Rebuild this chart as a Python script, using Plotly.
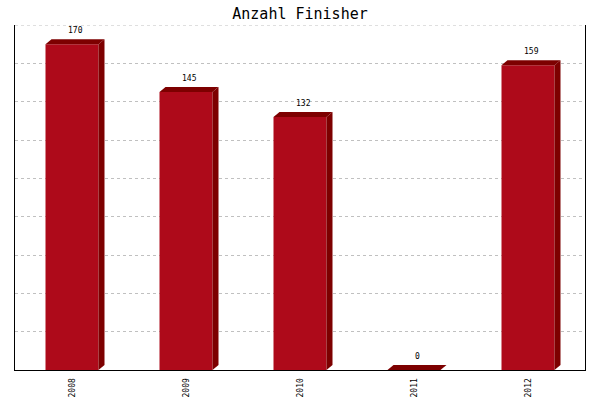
import plotly.graph_objects as go

years = ["2008", "2009", "2010", "2011", "2012"]
finishers = [170, 145, 132, 0, 159]

front_color = "#AE0A1A"
dark_color = "#7D0000"

W, H = 600, 400
ml, mr, mt, mb = 15, 15, 25, 30
ymax = 180
plot_w = W - ml - mr
plot_h = H - mt - mb
px_per_cat = plot_w / len(years)
px_per_unit = plot_h / ymax

bar_w = 53 / px_per_cat
dx = 6 / px_per_cat
dy = 5 / px_per_unit

fig = go.Figure()
fig.add_trace(go.Bar(
    x=list(range(len(years))), y=finishers, width=bar_w,
    marker=dict(color=front_color, line=dict(width=0)),
    showlegend=False, hoverinfo="skip"))

for i, v in enumerate(finishers):
    x0, x1 = i - bar_w / 2, i + bar_w / 2
    # top face
    fig.add_trace(go.Scatter(
        x=[x0, x1, x1 + dx, x0 + dx, x0],
        y=[v, v, v + dy, v + dy, v],
        fill="toself", fillcolor=dark_color, mode="lines",
        line=dict(width=0, color=dark_color), showlegend=False, hoverinfo="skip"))
    # side face
    if v > 0:
        fig.add_trace(go.Scatter(
            x=[x1, x1 + dx, x1 + dx, x1, x1],
            y=[v, v + dy, dy, 0, v],
            fill="toself", fillcolor=dark_color, mode="lines",
            line=dict(width=0, color=dark_color), showlegend=False, hoverinfo="skip"))
    fig.add_annotation(x=i + dx / 2, y=v + dy, text=str(v), showarrow=False,
                       yanchor="bottom", yshift=2,
                       font=dict(family="DejaVu Sans Mono", size=8, color="black"))

# dashed gridline along the top edge of the plot area
fig.add_shape(type="line", xref="paper", yref="y", x0=0, x1=1, y0=ymax, y1=ymax,
              line=dict(color="#C0C0C0", width=1, dash="3px,3px"), layer="below")

fig.update_layout(
    width=W, height=H,
    margin=dict(l=ml, r=mr, t=mt, b=mb, autoexpand=False),
    paper_bgcolor="white", plot_bgcolor="white",
    title=dict(text="Anzahl Finisher", x=0.5, xanchor="center", y=1 - 14 / H, yanchor="middle",
               font=dict(family="DejaVu Sans Mono", size=15, color="black")),
    xaxis=dict(range=[-0.5, len(years) - 0.5], tickmode="array",
               tickvals=list(range(len(years))), ticktext=years, tickangle=-90,
               showline=True, linecolor="black", linewidth=1, showgrid=False,
               ticks="", zeroline=False, automargin=False, ticklabelstandoff=4,
               tickfont=dict(family="DejaVu Sans Mono", size=8, color="black")),
    yaxis=dict(range=[0, ymax], dtick=20, showticklabels=False, ticks="",
               showline=True, mirror=True, linecolor="black", linewidth=1,
               showgrid=True, gridcolor="#C0C0C0", griddash="3px,3px", gridwidth=1,
               zeroline=False, automargin=False),
)

fig.write_html("out.html", config={"displayModeBar": False},
               post_script="document.body.style.margin='0';")
